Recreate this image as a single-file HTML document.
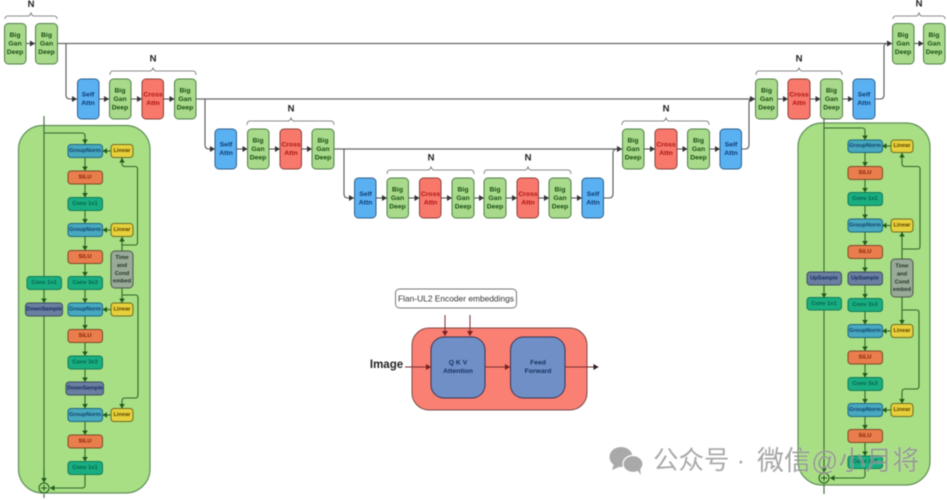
<!DOCTYPE html>
<html><head><meta charset="utf-8">
<style>
html,body{margin:0;padding:0;background:#fff;width:947px;height:500px;overflow:hidden}
svg{display:block;filter:blur(.5px)}
text{font-family:"Liberation Sans","Noto Sans CJK SC",sans-serif;text-anchor:middle;dominant-baseline:central}
.t{font-size:6.8px;font-weight:bold}
.s{font-size:5.7px;font-weight:bold}
.bg{fill:#a9da8b;stroke:#4f7d48}.bgt{fill:#164f12}
.sa{fill:#5ab1f2;stroke:#2c5f8c}.sat{fill:#0c3a72}
.ca{fill:#f8796c;stroke:#8a3f38}.cat{fill:#ad1212}
.gn{fill:#48a8c0;stroke:#1c6a7e}.gnt{fill:#0f4268}
.li{fill:#e6d03c;stroke:#6d6d20}.lit{fill:#5f4200}
.si{fill:#ea7d4c;stroke:#7c4a28}.sit{fill:#822408}
.co{fill:#18ae7f;stroke:#137a5a}.cot{fill:#086050}
.ds{fill:#6a7fa0;stroke:#3f4f60}.dst{fill:#162d60}
.ti{fill:#9aaa98;stroke:#4a5a4a}.tit{fill:#24342a}
.l{fill:none;stroke:#555;stroke-width:1.1}
.lt{fill:none;stroke:#666;stroke-width:1.3}
.gl{fill:none;stroke:#2e6a28;stroke-width:1.1}
.br{fill:none;stroke:#666;stroke-width:.8}
.rl{fill:none;stroke:#7a3030;stroke-width:1}
.N{font-size:9.500px;font-weight:bold;fill:#222}
</style></head><body>
<svg width="947" height="500" viewBox="0 0 947 500" xmlns="http://www.w3.org/2000/svg">
<defs>
<marker id="a" markerWidth="7" markerHeight="7" refX="5" refY="3" orient="auto" markerUnits="userSpaceOnUse"><path d="M0 0L5 3L0 6Z" fill="#333"/></marker>
<marker id="g" markerWidth="7" markerHeight="7" refX="4.500" refY="2.750" orient="auto" markerUnits="userSpaceOnUse"><path d="M0 0L4.500 2.750L0 5.500Z" fill="#1f5a1a"/></marker>
<marker id="r" markerWidth="7" markerHeight="7" refX="5" refY="3" orient="auto" markerUnits="userSpaceOnUse"><path d="M0 0L5 3L0 6Z" fill="#7a1f1f"/></marker>
<marker id="k" markerWidth="7" markerHeight="7" refX="5" refY="3" orient="auto" markerUnits="userSpaceOnUse"><path d="M0 0L5 3L0 6Z" fill="#222"/></marker>
</defs>

<!-- U-net connectors -->
<path class="lt" d="M57 43.500H892" marker-end="url(#a)"/>
<path class="l" d="M66 43.500V95q0 4 4 4H77" marker-end="url(#a)"/>
<path class="lt" d="M196 99H755" marker-end="url(#a)"/>
<path class="l" d="M205 99V145q0 4 4 4H215" marker-end="url(#a)"/>
<path class="lt" d="M334 149H622" marker-end="url(#a)"/>
<path class="l" d="M344 149V194q0 4 4 4H354" marker-end="url(#a)"/>
<path class="l" d="M603.500 198H609q4 0 4-4V153q0-4 4-4H622" marker-end="url(#a)"/>
<path class="l" d="M741.500 149H745q4 0 4-4V103q0-4 3-4H755" marker-end="url(#a)"/>
<path class="l" d="M875 99H880q4 0 4-4V47q0-3.500 3-3.500H892" marker-end="url(#a)"/>
<path class="l" d="M26 43.500H35" marker-end="url(#a)"/><path class="l" d="M99 99H109" marker-end="url(#a)"/><path class="l" d="M131 99H142" marker-end="url(#a)"/><path class="l" d="M163.500 99H174.500" marker-end="url(#a)"/>
<path class="l" d="M236.500 149H247.500" marker-end="url(#a)"/><path class="l" d="M269 149H280" marker-end="url(#a)"/><path class="l" d="M301.500 149H312" marker-end="url(#a)"/>
<path class="l" d="M376 198H387" marker-end="url(#a)"/><path class="l" d="M408.500 198H419.500" marker-end="url(#a)"/><path class="l" d="M441 198H452" marker-end="url(#a)"/><path class="l" d="M474 198H484" marker-end="url(#a)"/><path class="l" d="M506 198H517" marker-end="url(#a)"/><path class="l" d="M538.500 198H549" marker-end="url(#a)"/><path class="l" d="M571 198H582" marker-end="url(#a)"/>
<path class="l" d="M644 149H655" marker-end="url(#a)"/><path class="l" d="M677 149H687.500" marker-end="url(#a)"/><path class="l" d="M709.500 149H720" marker-end="url(#a)"/>
<path class="l" d="M777.500 99H788" marker-end="url(#a)"/><path class="l" d="M810 99H820.500" marker-end="url(#a)"/><path class="l" d="M842.500 99H853" marker-end="url(#a)"/>
<path class="l" d="M914 43.500H923.500" marker-end="url(#a)"/>

<!-- braces -->
<path class="br" d="M5 19Q5 16 8 16H28Q30 16 31 13Q32 16 34 16H54Q57 16 57 19"/>
<text class="N" x="31" y="4.500">N</text>
<path class="br" d="M110 75Q110 71 113 71H150Q152 71 153 68Q154 71 156 71H193Q196 71 196 75"/>
<text class="N" x="153" y="59">N</text>
<path class="br" d="M247 125Q247 121 250 121H288Q290 121 291 118Q292 121 294 121H331Q334 121 334 125"/>
<text class="N" x="291" y="109">N</text>
<path class="br" d="M387 174Q387 170 390 170H428Q430 170 431 167Q432 170 434 170H471Q474 170 474 174"/>
<text class="N" x="431" y="158">N</text>
<path class="br" d="M484 174Q484 170 487 170H525Q527 170 528 167Q529 170 531 170H568Q571 170 571 174"/>
<text class="N" x="528" y="158">N</text>
<path class="br" d="M622 125Q622 121 625 121H663Q665 121 666 118Q667 121 669 121H706Q709 121 709 125"/>
<text class="N" x="666" y="109">N</text>
<path class="br" d="M756 75Q756 71 759 71H796Q798 71 799 68Q800 71 802 71H839Q842 71 842 75"/>
<text class="N" x="799" y="59">N</text>
<path class="br" d="M893 19Q893 16 896 16H916Q918 16 919 13Q920 16 922 16H942Q945 16 945 19"/>
<text class="N" x="919" y="4">N</text>

<!-- Top row blocks -->
<g class="t">
<rect class="bg" x="4.500" y="23.500" width="21.500" height="40.500" rx="4"/>
<text class="bgt" x="15" y="35.500">Big</text><text class="bgt" x="15" y="44">Gan</text><text class="bgt" x="15" y="52.500">Deep</text>
<rect class="bg" x="35.500" y="23.500" width="22" height="40.500" rx="4"/>
<text class="bgt" x="46.500" y="35.500">Big</text><text class="bgt" x="46.500" y="44">Gan</text><text class="bgt" x="46.500" y="52.500">Deep</text>
<rect class="bg" x="892.500" y="23.500" width="21.500" height="40.500" rx="4"/>
<text class="bgt" x="903" y="35.500">Big</text><text class="bgt" x="903" y="44">Gan</text><text class="bgt" x="903" y="52.500">Deep</text>
<rect class="bg" x="923.500" y="23.500" width="21.500" height="40.500" rx="4"/>
<text class="bgt" x="934" y="35.500">Big</text><text class="bgt" x="934" y="44">Gan</text><text class="bgt" x="934" y="52.500">Deep</text>

<!-- Row 2 -->
<rect class="sa" x="77.500" y="79" width="21.500" height="40" rx="4"/>
<text class="sat" x="88" y="95">Self</text><text class="sat" x="88" y="103.500">Attn</text>
<rect class="bg" x="109.500" y="79" width="21.500" height="40" rx="4"/>
<text class="bgt" x="120" y="91">Big</text><text class="bgt" x="120" y="99.500">Gan</text><text class="bgt" x="120" y="108">Deep</text>
<rect class="ca" x="142" y="79" width="21.500" height="40" rx="4"/>
<text class="cat" x="153" y="95">Cross</text><text class="cat" x="153" y="103.500">Attn</text>
<rect class="bg" x="174.500" y="79" width="21.500" height="40" rx="4"/>
<text class="bgt" x="185" y="91">Big</text><text class="bgt" x="185" y="99.500">Gan</text><text class="bgt" x="185" y="108">Deep</text>

<rect class="bg" x="755.500" y="79" width="22" height="40" rx="4"/>
<text class="bgt" x="766.500" y="91">Big</text><text class="bgt" x="766.500" y="99.500">Gan</text><text class="bgt" x="766.500" y="108">Deep</text>
<rect class="ca" x="788" y="79" width="22" height="40" rx="4"/>
<text class="cat" x="799" y="95">Cross</text><text class="cat" x="799" y="103.500">Attn</text>
<rect class="bg" x="820.500" y="79" width="22" height="40" rx="4"/>
<text class="bgt" x="831.500" y="91">Big</text><text class="bgt" x="831.500" y="99.500">Gan</text><text class="bgt" x="831.500" y="108">Deep</text>
<rect class="sa" x="853" y="79" width="22" height="40" rx="4"/>
<text class="sat" x="864" y="95">Self</text><text class="sat" x="864" y="103.500">Attn</text>

<!-- Row 3 -->
<rect class="sa" x="215" y="129" width="21.500" height="40" rx="4"/>
<text class="sat" x="226" y="145">Self</text><text class="sat" x="226" y="153.500">Attn</text>
<rect class="bg" x="247.500" y="129" width="21.500" height="40" rx="4"/>
<text class="bgt" x="258" y="141">Big</text><text class="bgt" x="258" y="149.500">Gan</text><text class="bgt" x="258" y="158">Deep</text>
<rect class="ca" x="280" y="129" width="21.500" height="40" rx="4"/>
<text class="cat" x="291" y="145">Cross</text><text class="cat" x="291" y="153.500">Attn</text>
<rect class="bg" x="312" y="129" width="22" height="40" rx="4"/>
<text class="bgt" x="323" y="141">Big</text><text class="bgt" x="323" y="149.500">Gan</text><text class="bgt" x="323" y="158">Deep</text>

<rect class="bg" x="622.500" y="129" width="21.500" height="40" rx="4"/>
<text class="bgt" x="633" y="141">Big</text><text class="bgt" x="633" y="149.500">Gan</text><text class="bgt" x="633" y="158">Deep</text>
<rect class="ca" x="655" y="129" width="22" height="40" rx="4"/>
<text class="cat" x="666" y="145">Cross</text><text class="cat" x="666" y="153.500">Attn</text>
<rect class="bg" x="687.500" y="129" width="22" height="40" rx="4"/>
<text class="bgt" x="698.500" y="141">Big</text><text class="bgt" x="698.500" y="149.500">Gan</text><text class="bgt" x="698.500" y="158">Deep</text>
<rect class="sa" x="720" y="129" width="21.500" height="40" rx="4"/>
<text class="sat" x="731" y="145">Self</text><text class="sat" x="731" y="153.500">Attn</text>

<!-- Row 4 -->
<rect class="sa" x="354.500" y="178" width="21.500" height="40" rx="4"/>
<text class="sat" x="365.500" y="194.500">Self</text><text class="sat" x="365.500" y="203">Attn</text>
<rect class="bg" x="387" y="178" width="21.500" height="40" rx="4"/>
<text class="bgt" x="397.500" y="190">Big</text><text class="bgt" x="397.500" y="198.500">Gan</text><text class="bgt" x="397.500" y="207">Deep</text>
<rect class="ca" x="419.500" y="178" width="21.500" height="40" rx="4"/>
<text class="cat" x="430.500" y="194.500">Cross</text><text class="cat" x="430.500" y="203">Attn</text>
<rect class="bg" x="452" y="178" width="22" height="40" rx="4"/>
<text class="bgt" x="463" y="190">Big</text><text class="bgt" x="463" y="198.500">Gan</text><text class="bgt" x="463" y="207">Deep</text>
<rect class="bg" x="484" y="178" width="22" height="40" rx="4"/>
<text class="bgt" x="495" y="190">Big</text><text class="bgt" x="495" y="198.500">Gan</text><text class="bgt" x="495" y="207">Deep</text>
<rect class="ca" x="517" y="178" width="21.500" height="40" rx="4"/>
<text class="cat" x="528" y="194.500">Cross</text><text class="cat" x="528" y="203">Attn</text>
<rect class="bg" x="549" y="178" width="22" height="40" rx="4"/>
<text class="bgt" x="560" y="190">Big</text><text class="bgt" x="560" y="198.500">Gan</text><text class="bgt" x="560" y="207">Deep</text>
<rect class="sa" x="582" y="178" width="21.500" height="40" rx="4"/>
<text class="sat" x="593" y="194.500">Self</text><text class="sat" x="593" y="203">Attn</text>
</g>

<!-- LEFT PANEL -->
<rect x="18.500" y="125.500" width="131.500" height="367.500" rx="24" fill="#a8de84" stroke="#5f8f58" stroke-width="1.200"/>
<path d="M44 116V482M44 494V498" fill="none" stroke="#3f6a3a" stroke-width="1.100"/>
<path class="gl" d="M44 133H82q3 0 3 3V144" marker-end="url(#g)"/>
<path class="gl" d="M85 157.500V171" marker-end="url(#g)"/>
<path class="gl" d="M85 184V197.500" marker-end="url(#g)"/>
<path class="gl" d="M85 210.500V223.500" marker-end="url(#g)"/>
<path class="gl" d="M85 236.500V250.500" marker-end="url(#g)"/>
<path class="gl" d="M85 263.500V276.500" marker-end="url(#g)"/>
<path class="gl" d="M85 289.500V303" marker-end="url(#g)"/>
<path class="gl" d="M85 316V329.500" marker-end="url(#g)"/>
<path class="gl" d="M85 342.500V356" marker-end="url(#g)"/>
<path class="gl" d="M85 369V382" marker-end="url(#g)"/>
<path class="gl" d="M85 395V408.500" marker-end="url(#g)"/>
<path class="gl" d="M85 421.500V435" marker-end="url(#g)"/>
<path class="gl" d="M85 448V461.500" marker-end="url(#g)"/>
<path class="gl" d="M85 474.500V485q0 3-3 3H50" marker-end="url(#g)"/>
<path class="gl" d="M44 289.500V303" marker-end="url(#g)"/>
<path class="gl" d="M44 470V482.500" marker-end="url(#g)"/>
<path class="gl" d="M111 151H102.500" marker-end="url(#g)"/>
<path class="gl" d="M111 230H102.500" marker-end="url(#g)"/>
<path class="gl" d="M111 309.500H102.500" marker-end="url(#g)"/>
<path class="gl" d="M111 415H102.500" marker-end="url(#g)"/>
<path class="gl" d="M122 251V237" marker-end="url(#g)"/>
<path class="gl" d="M122 245H135q2.500 0 2.500-2.500V169q0-2.500-2.500-2.500H125q-3 0-3-3V158" marker-end="url(#g)"/>
<path class="gl" d="M122 288V303" marker-end="url(#g)"/>
<path class="gl" d="M122 295H135.500q2.500 0 2.500 2.500V395q0 3-3 3H125q-3 0-3 3V408.500" marker-end="url(#g)"/>

<g class="s">
<rect class="gn" x="68" y="144.500" width="34.500" height="13" rx="3"/><text class="gnt" x="85" y="151">GroupNorm</text>
<rect class="li" x="111" y="144.500" width="22" height="13" rx="3"/><text class="lit" x="122" y="151">Linear</text>
<rect class="si" x="68" y="171" width="34.500" height="13" rx="3"/><text class="sit" x="85" y="177.500">SiLU</text>
<rect class="co" x="68" y="197.500" width="34.500" height="13" rx="3"/><text class="cot" x="85" y="204">Conv 1x1</text>
<rect class="gn" x="68" y="223.500" width="34.500" height="13" rx="3"/><text class="gnt" x="85" y="230">GroupNorm</text>
<rect class="li" x="111" y="223.500" width="22" height="13" rx="3"/><text class="lit" x="122" y="230">Linear</text>
<rect class="si" x="68" y="250.500" width="34.500" height="13" rx="3"/><text class="sit" x="85" y="257">SiLU</text>
<rect class="ti" x="111" y="251" width="22" height="37" rx="4"/>
<text class="tit" x="122" y="258">Time</text><text class="tit" x="122" y="266">and</text><text class="tit" x="122" y="274">Cond</text><text class="tit" x="122" y="281.500">embed</text>
<rect class="co" x="68" y="276.500" width="34.500" height="13" rx="3"/><text class="cot" x="85" y="283">Conv 3x3</text>
<rect class="co" x="27" y="276.500" width="34.500" height="13" rx="3"/><text class="cot" x="44" y="283">Conv 1x1</text>
<rect class="ds" x="25.500" y="303" width="37" height="13" rx="3"/><text class="dst" x="44" y="309.500">DownSample</text>
<rect class="gn" x="68" y="303" width="34.500" height="13" rx="3"/><text class="gnt" x="85" y="309.500">GroupNorm</text>
<rect class="li" x="111" y="303" width="22" height="13" rx="3"/><text class="lit" x="122" y="309.500">Linear</text>
<rect class="si" x="68" y="329.500" width="34.500" height="13" rx="3"/><text class="sit" x="85" y="336">SiLU</text>
<rect class="co" x="68" y="356" width="34.500" height="13" rx="3"/><text class="cot" x="85" y="362.500">Conv 3x3</text>
<rect class="ds" x="66" y="382" width="37.500" height="13" rx="3"/><text class="dst" x="85" y="388.500">DownSample</text>
<rect class="gn" x="68" y="408.500" width="34.500" height="13" rx="3"/><text class="gnt" x="85" y="415">GroupNorm</text>
<rect class="li" x="111" y="408.500" width="22" height="13" rx="3"/><text class="lit" x="122" y="415">Linear</text>
<rect class="si" x="68" y="435" width="34.500" height="13" rx="3"/><text class="sit" x="85" y="441.500">SiLU</text>
<rect class="co" x="68" y="461.500" width="34.500" height="13" rx="3"/><text class="cot" x="85" y="468">Conv 1x1</text>
</g>
<circle cx="44" cy="488" r="5" fill="#a8de84" stroke="#1f5a1a" stroke-width="1"/>
<path d="M41 488H47M44 485V491" stroke="#1f5a1a" stroke-width="1"/>

<!-- RIGHT PANEL -->
<rect x="798" y="123" width="132" height="362" rx="24" fill="#a8de84" stroke="#5f8f58" stroke-width="1.200"/>
<path d="M824 118V472M824 484V494" fill="none" stroke="#3f6a3a" stroke-width="1.100"/>
<path class="gl" d="M824 128H862q3 0 3 3V140" marker-end="url(#g)"/>
<path class="gl" d="M865 152.500V166.500" marker-end="url(#g)"/>
<path class="gl" d="M865 179.500V192.500" marker-end="url(#g)"/>
<path class="gl" d="M865 205.500V219" marker-end="url(#g)"/>
<path class="gl" d="M865 232V245.500" marker-end="url(#g)"/>
<path class="gl" d="M865 258.500V272" marker-end="url(#g)"/>
<path class="gl" d="M865 285V298.500" marker-end="url(#g)"/>
<path class="gl" d="M865 311.500V324.500" marker-end="url(#g)"/>
<path class="gl" d="M865 337.500V351" marker-end="url(#g)"/>
<path class="gl" d="M865 364V377.500" marker-end="url(#g)"/>
<path class="gl" d="M865 390.500V403.500" marker-end="url(#g)"/>
<path class="gl" d="M865 416.500V429.500" marker-end="url(#g)"/>
<path class="gl" d="M865 442.500V456" marker-end="url(#g)"/>
<path class="gl" d="M865 468.500V475q0 3-3 3H830" marker-end="url(#g)"/>
<path class="gl" d="M824 285V298" marker-end="url(#g)"/>
<path class="gl" d="M824 460V472.500" marker-end="url(#g)"/>
<path class="gl" d="M891 146H882" marker-end="url(#g)"/>
<path class="gl" d="M891 225.500H882" marker-end="url(#g)"/>
<path class="gl" d="M891 331H882" marker-end="url(#g)"/>
<path class="gl" d="M891 410H882" marker-end="url(#g)"/>
<path class="gl" d="M902 259V232" marker-end="url(#g)"/>
<path class="gl" d="M902 249H917.500q2.500 0 2.500-2.500V169q0-2.500-2.500-2.500H905q-3 0-3-3V153" marker-end="url(#g)"/>
<path class="gl" d="M902 297V324.500" marker-end="url(#g)"/>
<path class="gl" d="M902 310H916.500q2.500 0 2.500 2.500V386q0 3-3 3H905q-3 0-3 3V403.500" marker-end="url(#g)"/>

<g class="s">
<rect class="gn" x="848" y="140" width="34.500" height="12.500" rx="3"/><text class="gnt" x="865" y="146">GroupNorm</text>
<rect class="li" x="891" y="140" width="22" height="12.500" rx="3"/><text class="lit" x="902" y="146">Linear</text>
<rect class="si" x="848" y="166.500" width="34.500" height="13" rx="3"/><text class="sit" x="865" y="173">SiLU</text>
<rect class="co" x="848" y="192.500" width="34.500" height="13" rx="3"/><text class="cot" x="865" y="199">Conv 1x1</text>
<rect class="gn" x="848" y="219" width="34.500" height="13" rx="3"/><text class="gnt" x="865" y="225.500">GroupNorm</text>
<rect class="li" x="891" y="219" width="22" height="13" rx="3"/><text class="lit" x="902" y="225.500">Linear</text>
<rect class="si" x="848" y="245.500" width="34.500" height="13" rx="3"/><text class="sit" x="865" y="252">SiLU</text>
<rect class="ti" x="891" y="259" width="22" height="38" rx="4"/>
<text class="tit" x="902" y="266.500">Time</text><text class="tit" x="902" y="274.500">and</text><text class="tit" x="902" y="282.500">Cond</text><text class="tit" x="902" y="290">embed</text>
<rect class="ds" x="848" y="272" width="34.500" height="13" rx="3"/><text class="dst" x="865" y="278.500">UpSample</text>
<rect class="ds" x="807" y="272" width="34.500" height="13" rx="3"/><text class="dst" x="824" y="278.500">UpSample</text>
<rect class="co" x="807" y="297.500" width="34.500" height="12.500" rx="3"/><text class="cot" x="824" y="304">Conv 1x1</text>
<rect class="co" x="848" y="298.500" width="34.500" height="13" rx="3"/><text class="cot" x="865" y="305">Conv 3x3</text>
<rect class="gn" x="848" y="324.500" width="34.500" height="13" rx="3"/><text class="gnt" x="865" y="331">GroupNorm</text>
<rect class="li" x="891" y="324.500" width="22" height="13" rx="3"/><text class="lit" x="902" y="331">Linear</text>
<rect class="si" x="848" y="351" width="34.500" height="13" rx="3"/><text class="sit" x="865" y="357.500">SiLU</text>
<rect class="co" x="848" y="377.500" width="34.500" height="13" rx="3"/><text class="cot" x="865" y="384">Conv 3x3</text>
<rect class="gn" x="848" y="403.500" width="34.500" height="13" rx="3"/><text class="gnt" x="865" y="410">GroupNorm</text>
<rect class="li" x="891" y="403.500" width="22" height="13" rx="3"/><text class="lit" x="902" y="410">Linear</text>
<rect class="si" x="848" y="429.500" width="34.500" height="13" rx="3"/><text class="sit" x="865" y="436">SiLU</text>
<rect class="co" x="848" y="456" width="34.500" height="12.500" rx="3"/><text class="cot" x="865" y="462">Conv 1x1</text>
</g>
<circle cx="824" cy="478" r="5" fill="#a8de84" stroke="#1f5a1a" stroke-width="1"/>
<path d="M821 478H827M824 475V481" stroke="#1f5a1a" stroke-width="1"/>

<!-- CENTER -->
<rect x="395.500" y="289" width="121" height="19" rx="4" fill="#fff" stroke="#777" stroke-width="1"/>
<text x="456" y="298.500" style="font-size:8.400px;fill:#333">Flan-UL2 Encoder embeddings</text>
<rect x="412" y="328" width="175" height="82" rx="17" fill="#f98073" stroke="#7a4a48" stroke-width="1"/>
<rect x="431" y="337" width="54" height="61" rx="13" fill="#6f8fc6" stroke="#3a3450" stroke-width="1"/>
<rect x="510.500" y="337" width="54.500" height="61" rx="13" fill="#6f8fc6" stroke="#3a3450" stroke-width="1"/>
<text x="458" y="363" style="font-size:6.800px;font-weight:bold;fill:#15305f">Q K V</text>
<text x="458" y="371.500" style="font-size:6.800px;font-weight:bold;fill:#15305f">Attention</text>
<text x="538" y="363" style="font-size:6.800px;font-weight:bold;fill:#15305f">Feed</text>
<text x="538" y="371.500" style="font-size:6.800px;font-weight:bold;fill:#15305f">Forward</text>
<text x="386.500" y="365" style="font-size:11.500px;font-weight:bold;fill:#222">Image</text>
<path class="rl" d="M405 367H431" marker-end="url(#r)"/>
<path class="rl" d="M485 367H510" marker-end="url(#r)"/>
<path class="rl" d="M565 367H598.500" marker-end="url(#k)"/>
<path class="rl" d="M445 315V336" marker-end="url(#r)"/>
<path class="rl" d="M470 315V336" marker-end="url(#r)"/>

<!-- Watermark -->
<g fill="#a9a9a9">
<ellipse cx="621" cy="457" rx="11.500" ry="10"/>
<path d="M614 464l-2 6 7-3z"/>
<ellipse cx="633" cy="464" rx="10" ry="8.500" stroke="#fff" stroke-width="1.200"/>
<path d="M637 470l4 5-1-7z"/>
</g>
<text x="653" y="461" style="font-size:25.500px;fill:#a9a9a9;text-anchor:start">公众号 ·</text>
<text x="757" y="461" style="font-size:27px;fill:#8f8f8f;text-anchor:start;opacity:.8;stroke:#fff;stroke-opacity:.45;stroke-width:.8px;paint-order:stroke">微信@小月将</text>
</svg>
</body></html>
